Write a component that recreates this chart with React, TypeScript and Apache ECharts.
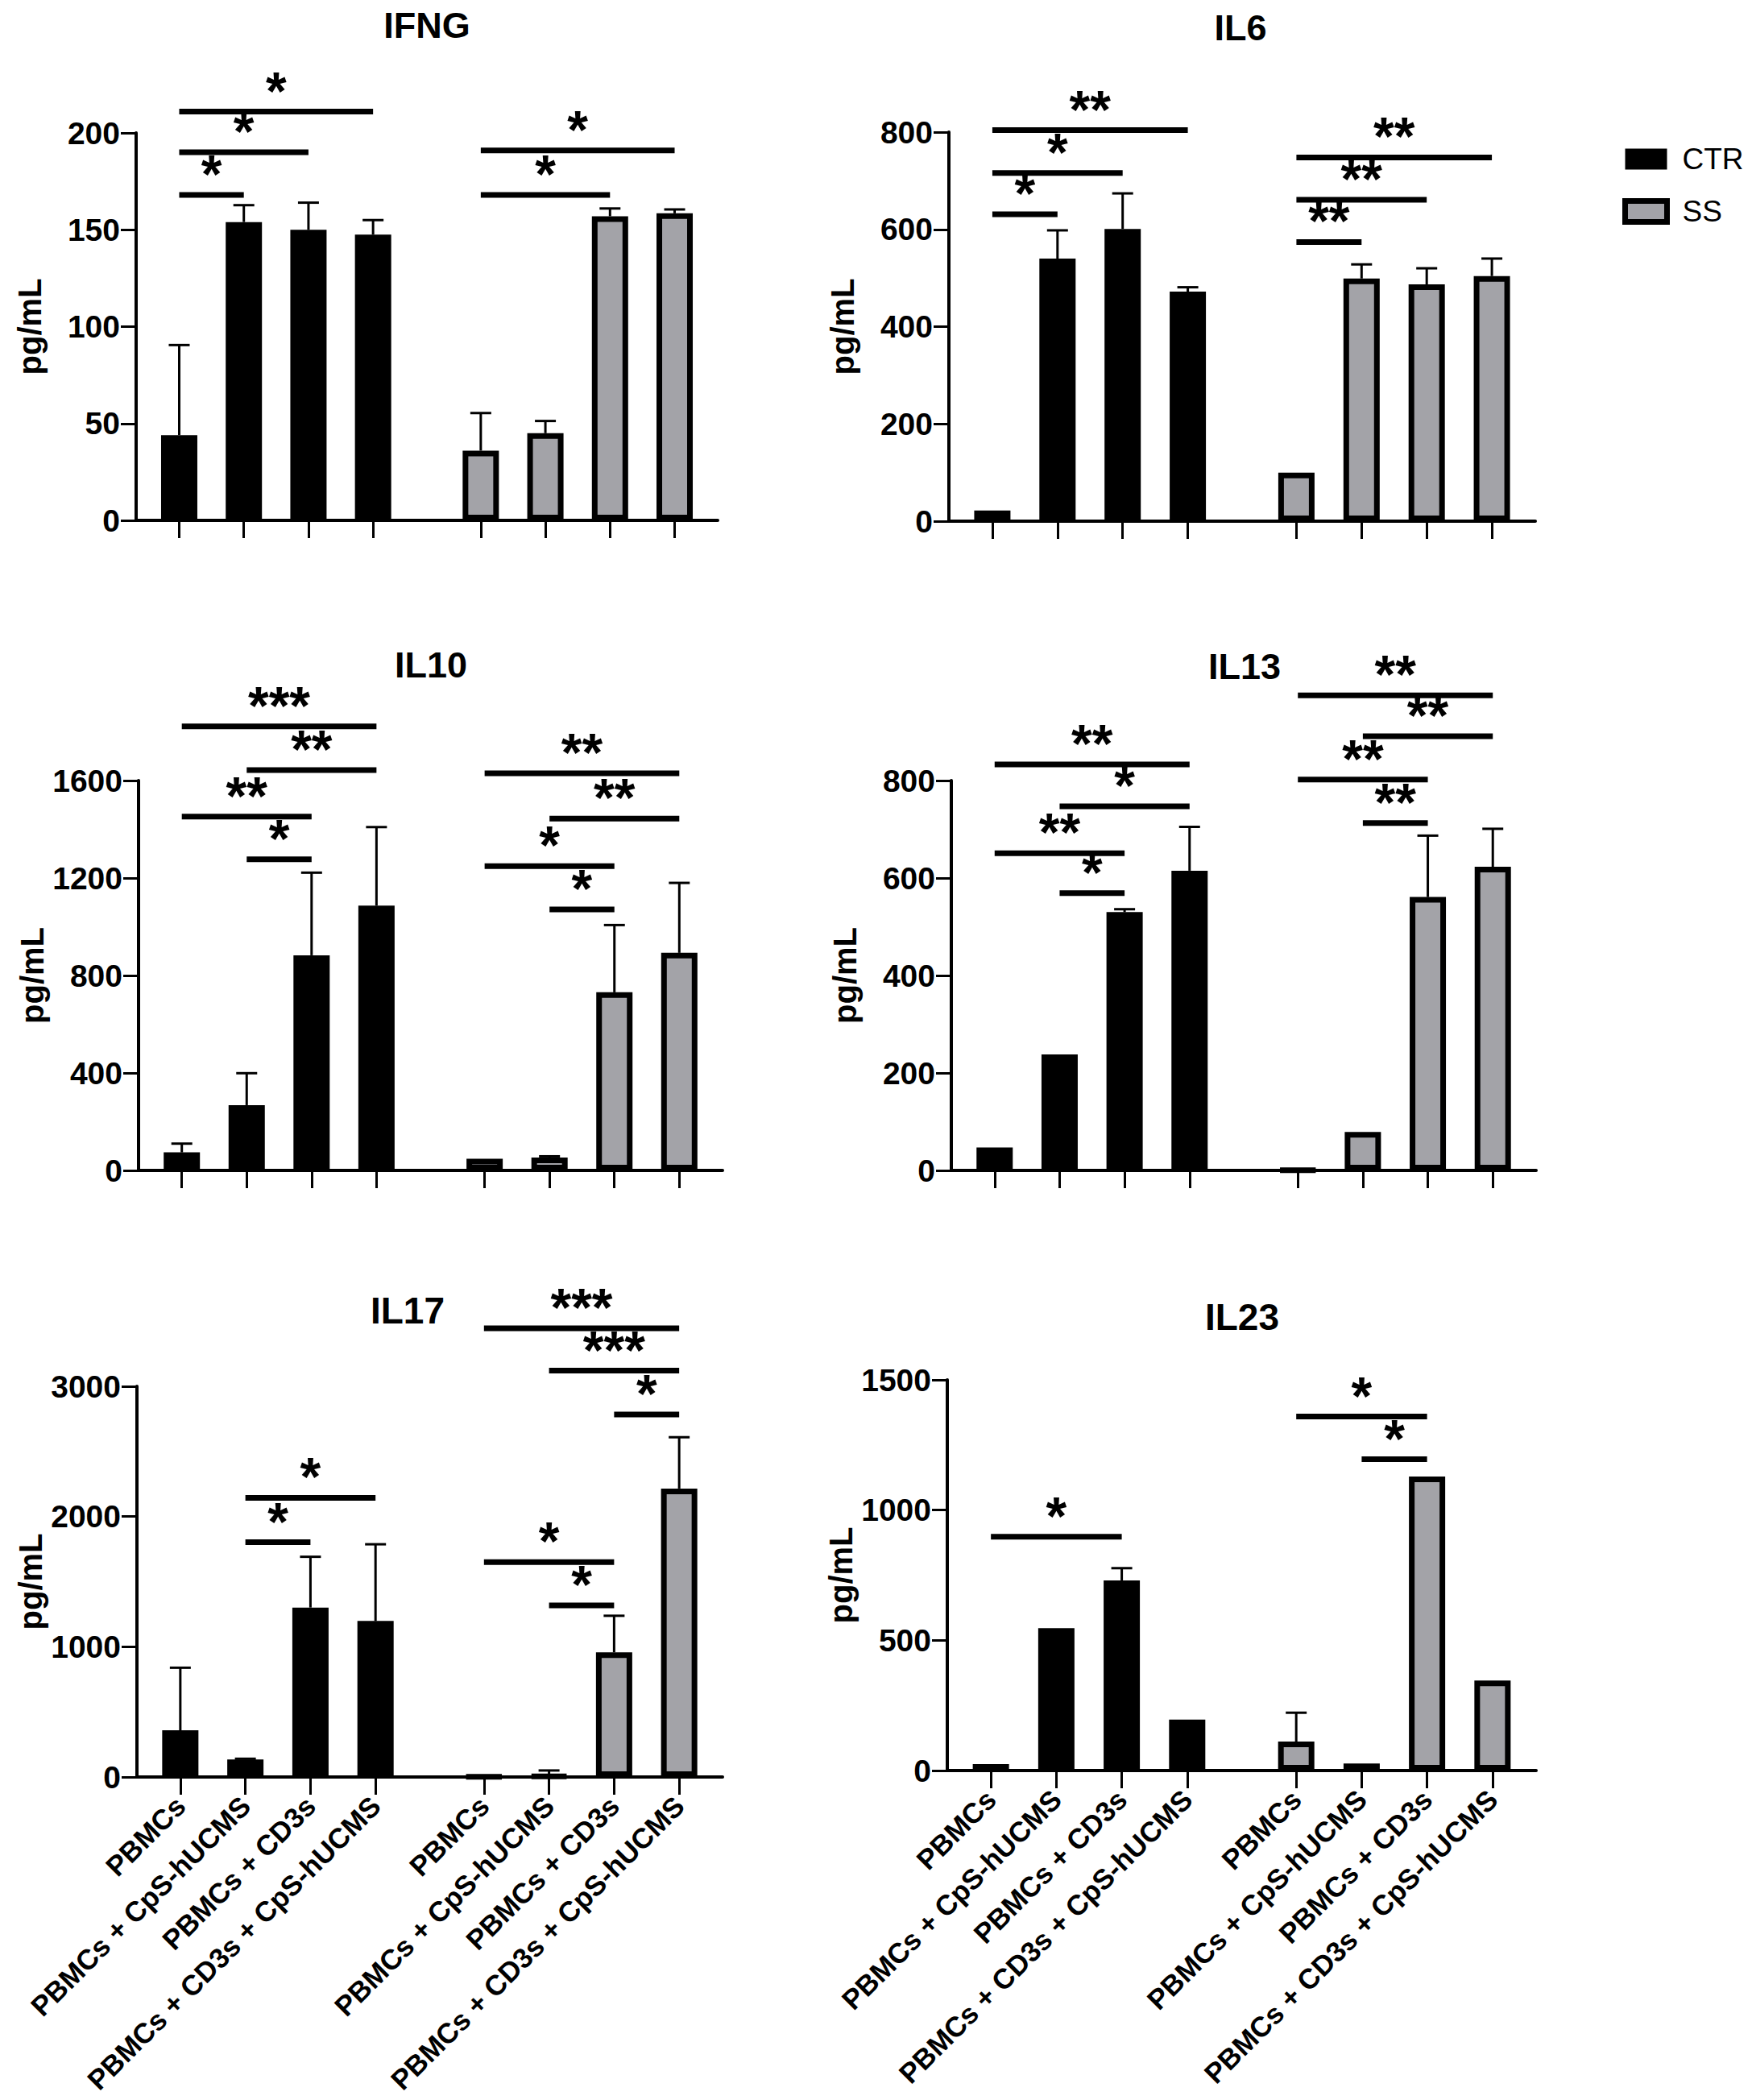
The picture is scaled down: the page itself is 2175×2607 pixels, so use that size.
import React, { useEffect, useRef } from 'react';
import * as echarts from 'echarts';

const FONT = '"Liberation Sans", Arial, Helvetica, sans-serif';
const GRAY = '#a3a3a8';

const GROUP_LABELS = ['PBMCs', 'PBMCs + CpS-hUCMS', 'PBMCs + CD3s', 'PBMCs + CD3s + CpS-hUCMS'];
const SLOTS = [2, 5, 8, 11, 16, 19, 22, 25];
const SLOT_COUNT = 28;

const PANEL_NAMES = ['IFNG', 'IL6', 'IL10', 'IL13', 'IL17', 'IL23'];
const Y_MAX = [200, 800, 1600, 800, 3000, 1500];
const Y_STEP = [50, 200, 400, 200, 1000, 500];

// values (mean) and upper error-bar ends (null = no error bar)
const IFNG_CTR = [44, 154, 150, 147.5];
const IFNG_CTR_ERR = [90.5, 162.7, 164, 155];
const IFNG_SS = [36, 45, 157, 158.5];
const IFNG_SS_ERR = [55.4, 51.3, 161, 160.5];

const IL6_CTR = [22, 540, 601, 472];
const IL6_CTR_ERR = [null, 598, 674, 481];
const IL6_SS = [100, 499, 487, 504];
const IL6_SS_ERR = [null, 528, 520, 540];

const IL10_CTR = [74, 268, 883, 1087];
const IL10_CTR_ERR = [110, 399, 1222, 1409];
const IL10_SS = [48, 53, 731, 893];
const IL10_SS_ERR = [null, 58, 1007, 1180];

const IL13_CTR = [47, 238, 530, 615];
const IL13_CTR_ERR = [null, null, 536, 705];
const IL13_SS = [1, 79, 561, 623];
const IL13_SS_ERR = [null, null, 687, 701];

const IL17_CTR = [358, 134, 1301, 1198];
const IL17_CTR_ERR = [839, 140, 1691, 1787];
const IL17_SS = [3, 8, 957, 2215];
const IL17_SS_ERR = [null, 50, 1238, 2609];

const IL23_CTR = [25, 547, 730, 196];
const IL23_CTR_ERR = [null, null, 777, null];
const IL23_SS = [111, 27, 1129, 346];
const IL23_SS_ERR = [222, null, null, null];

// significance brackets: [from bar, to bar, y value, stars]
const IFNG_SIG = [[0, 1, 168, '*'], [0, 2, 190, '*'], [0, 3, 211, '*'], [4, 6, 168, '*'], [4, 7, 191, '*']];
const IL6_SIG = [[0, 1, 631, '*'], [0, 2, 716, '*'], [0, 3, 804, '**'], [4, 5, 574, '**'], [4, 6, 661, '**'], [4, 7, 748, '**']];
const IL10_SIG = [[1, 2, 1277, '*'], [0, 2, 1452, '**'], [1, 3, 1643, '**'], [0, 3, 1822, '***'], [5, 6, 1071, '*'], [4, 6, 1249, '*'], [5, 7, 1444, '**'], [4, 7, 1630, '**']];
const IL13_SIG = [[1, 2, 569, '*'], [0, 2, 651, '**'], [1, 3, 747, '*'], [0, 3, 833, '**'], [5, 6, 713, '**'], [4, 6, 802, '**'], [5, 7, 891, '**'], [4, 7, 975, '**']];
const IL17_SIG = [[1, 2, 1803, '*'], [1, 3, 2144, '*'], [5, 6, 1317, '*'], [4, 6, 1650, '*'], [6, 7, 2784, '*'], [5, 7, 3120, '***'], [4, 7, 3445, '***']];
const IL23_SIG = [[0, 2, 898, '*'], [5, 6, 1195, '*'], [4, 6, 1359, '*']];

const CTR_VALUES = [IFNG_CTR, IL6_CTR, IL10_CTR, IL13_CTR, IL17_CTR, IL23_CTR];
const CTR_ERRS = [IFNG_CTR_ERR, IL6_CTR_ERR, IL10_CTR_ERR, IL13_CTR_ERR, IL17_CTR_ERR, IL23_CTR_ERR];
const SS_VALUES = [IFNG_SS, IL6_SS, IL10_SS, IL13_SS, IL17_SS, IL23_SS];
const SS_ERRS = [IFNG_SS_ERR, IL6_SS_ERR, IL10_SS_ERR, IL13_SS_ERR, IL17_SS_ERR, IL23_SS_ERR];
const SIGS = [IFNG_SIG, IL6_SIG, IL10_SIG, IL13_SIG, IL17_SIG, IL23_SIG];

const LAYOUT = [
  { left: 169, top: 165, width: 722, height: 481, tx: 530, ty: 31, tsize: 45, labels: false },
  { left: 1178, top: 164, width: 728, height: 483, tx: 1540, ty: 34, tsize: 45, labels: false },
  { left: 172, top: 969, width: 725, height: 484, tx: 535, ty: 825, tsize: 45, labels: false },
  { left: 1181, top: 969, width: 726, height: 484, tx: 1545, ty: 827, tsize: 45, labels: false },
  { left: 170, top: 1721, width: 727, height: 485, tx: 506, ty: 1627, tsize: 46, labels: true },
  { left: 1176, top: 1713, width: 731, height: 485, tx: 1542, ty: 1635, tsize: 46, labels: true },
];

function buildOption() {
  const slotLabels: string[] = [];
  for (let i = 0; i < SLOT_COUNT; i++) {
    const k = SLOTS.indexOf(i);
    slotLabels.push(k >= 0 ? GROUP_LABELS[k % 4] : '');
  }
  const grid: any[] = [];
  const xAxis: any[] = [];
  const yAxis: any[] = [];
  const series: any[] = [];
  const graphic: any[] = [];

  LAYOUT.forEach((L, i) => {
    grid.push({ left: L.left, top: L.top, width: L.width, height: L.height, containLabel: false });
    xAxis.push({
      type: 'category',
      gridIndex: i,
      data: slotLabels,
      boundaryGap: false,
      z: 3,
      axisLine: { show: true, lineStyle: { color: '#000', width: 4 } },
      axisTick: {
        show: true,
        length: 22,
        interval: (idx: number) => SLOTS.indexOf(idx) >= 0,
        lineStyle: { color: '#000', width: 3 },
      },
      axisLabel: {
        show: L.labels,
        interval: 0,
        rotate: 45,
        margin: 30,
        fontSize: 35,
        fontWeight: 'bold',
        fontFamily: FONT,
        color: '#000',
      },
      splitLine: { show: false },
    });
    yAxis.push({
      type: 'value',
      gridIndex: i,
      min: 0,
      max: Y_MAX[i],
      interval: Y_STEP[i],
      z: 3,
      name: 'pg/mL',
      nameLocation: 'middle',
      nameGap: 112,
      nameTextStyle: { fontSize: 40, fontWeight: 'bold', fontFamily: FONT, color: '#000' },
      axisLine: { show: true, lineStyle: { color: '#000', width: 4 } },
      axisTick: { show: true, length: 19, lineStyle: { color: '#000', width: 3 } },
      axisLabel: {
        fontSize: 39,
        fontWeight: 'bold',
        fontFamily: FONT,
        color: '#000',
        margin: 20,
        formatter: (v: number) => String(v),
      },
      splitLine: { show: false },
    });

    const ctrData: any[] = new Array(SLOT_COUNT).fill('-');
    const ssData: any[] = new Array(SLOT_COUNT).fill('-');
    CTR_VALUES[i].forEach((v, k) => (ctrData[SLOTS[k]] = v));
    SS_VALUES[i].forEach((v, k) => (ssData[SLOTS[k + 4]] = v));

    series.push({
      type: 'bar',
      name: 'CTR',
      xAxisIndex: i,
      yAxisIndex: i,
      data: ctrData,
      barWidth: 45,
      barGap: '-100%',
      itemStyle: { color: '#000', borderColor: '#000', borderWidth: 8 },
    });
    series.push({
      type: 'bar',
      name: 'SS',
      xAxisIndex: i,
      yAxisIndex: i,
      data: ssData,
      barWidth: 45,
      barGap: '-100%',
      itemStyle: { color: GRAY, borderColor: '#000', borderWidth: 7 },
    });

    const errData: any[] = [];
    CTR_ERRS[i].forEach((e, k) => {
      if (e != null) errData.push([SLOTS[k], CTR_VALUES[i][k], e]);
    });
    SS_ERRS[i].forEach((e, k) => {
      if (e != null) errData.push([SLOTS[k + 4], SS_VALUES[i][k], e]);
    });
    series.push({
      type: 'custom',
      xAxisIndex: i,
      yAxisIndex: i,
      data: errData,
      z: 4,
      silent: true,
      renderItem: (params: any, api: any) => {
        const x = api.value(0);
        const base = api.coord([x, api.value(1)]);
        const top = api.coord([x, api.value(2)]);
        return {
          type: 'group',
          children: [
            { type: 'line', shape: { x1: base[0], y1: base[1], x2: top[0], y2: top[1] }, style: { stroke: '#000', lineWidth: 3 } },
            { type: 'line', shape: { x1: top[0] - 13, y1: top[1], x2: top[0] + 13, y2: top[1] }, style: { stroke: '#000', lineWidth: 3 } },
          ],
        };
      },
    });

    const sig = SIGS[i];
    series.push({
      type: 'custom',
      xAxisIndex: i,
      yAxisIndex: i,
      data: sig.map((s) => [SLOTS[s[0] as number], s[2], SLOTS[s[1] as number]]),
      z: 5,
      silent: true,
      clip: false,
      renderItem: (params: any, api: any) => {
        const y = api.value(1);
        const p1 = api.coord([api.value(0), y]);
        const p2 = api.coord([api.value(2), y]);
        const stars = sig[params.dataIndex][3] as string;
        return {
          type: 'group',
          children: [
            { type: 'line', shape: { x1: p1[0], y1: p1[1], x2: p2[0], y2: p2[1] }, style: { stroke: '#000', lineWidth: 7 } },
            {
              type: 'text',
              x: (p1[0] + p2[0]) / 2,
              y: p1[1] - 26,
              style: {
                text: stars,
                fontSize: 66,
                lineHeight: 28,
                fontWeight: 'bold',
                fontFamily: FONT,
                fill: '#000',
                textAlign: 'center',
                textVerticalAlign: 'middle',
              },
            },
          ],
        };
      },
    });

    graphic.push({
      type: 'text',
      x: L.tx,
      y: L.ty,
      style: {
        text: PANEL_NAMES[i],
        fontSize: L.tsize,
        fontWeight: 'bold',
        fontFamily: FONT,
        fill: '#000',
        textAlign: 'center',
        textVerticalAlign: 'middle',
      },
    });
  });

  return {
    animation: false,
    backgroundColor: '#fff',
    textStyle: { fontFamily: FONT },
    legend: {
      orient: 'vertical',
      left: 2009,
      top: 174,
      icon: 'rect',
      itemWidth: 52,
      itemHeight: 26,
      itemGap: 28,
      selectedMode: false,
      textStyle: { fontSize: 37, fontFamily: FONT, color: '#000', padding: [0, 0, 0, 14] },
      data: [
        { name: 'CTR', itemStyle: { color: '#000', borderWidth: 0 } },
        { name: 'SS', itemStyle: { color: GRAY, borderColor: '#000', borderWidth: 7 } },
      ],
    },
    grid,
    xAxis,
    yAxis,
    series,
    graphic,
  };
}

export default function App() {
  const ref = useRef<HTMLDivElement>(null);
  useEffect(() => {
    document.body.style.margin = '0';
    if (!ref.current) return;
    const chart = echarts.init(ref.current, undefined, { renderer: 'svg' });
    chart.setOption(buildOption() as any);
    return () => chart.dispose();
  }, []);
  return <div ref={ref} style={{ width: 2175, height: 2607, background: '#fff' }} />;
}
